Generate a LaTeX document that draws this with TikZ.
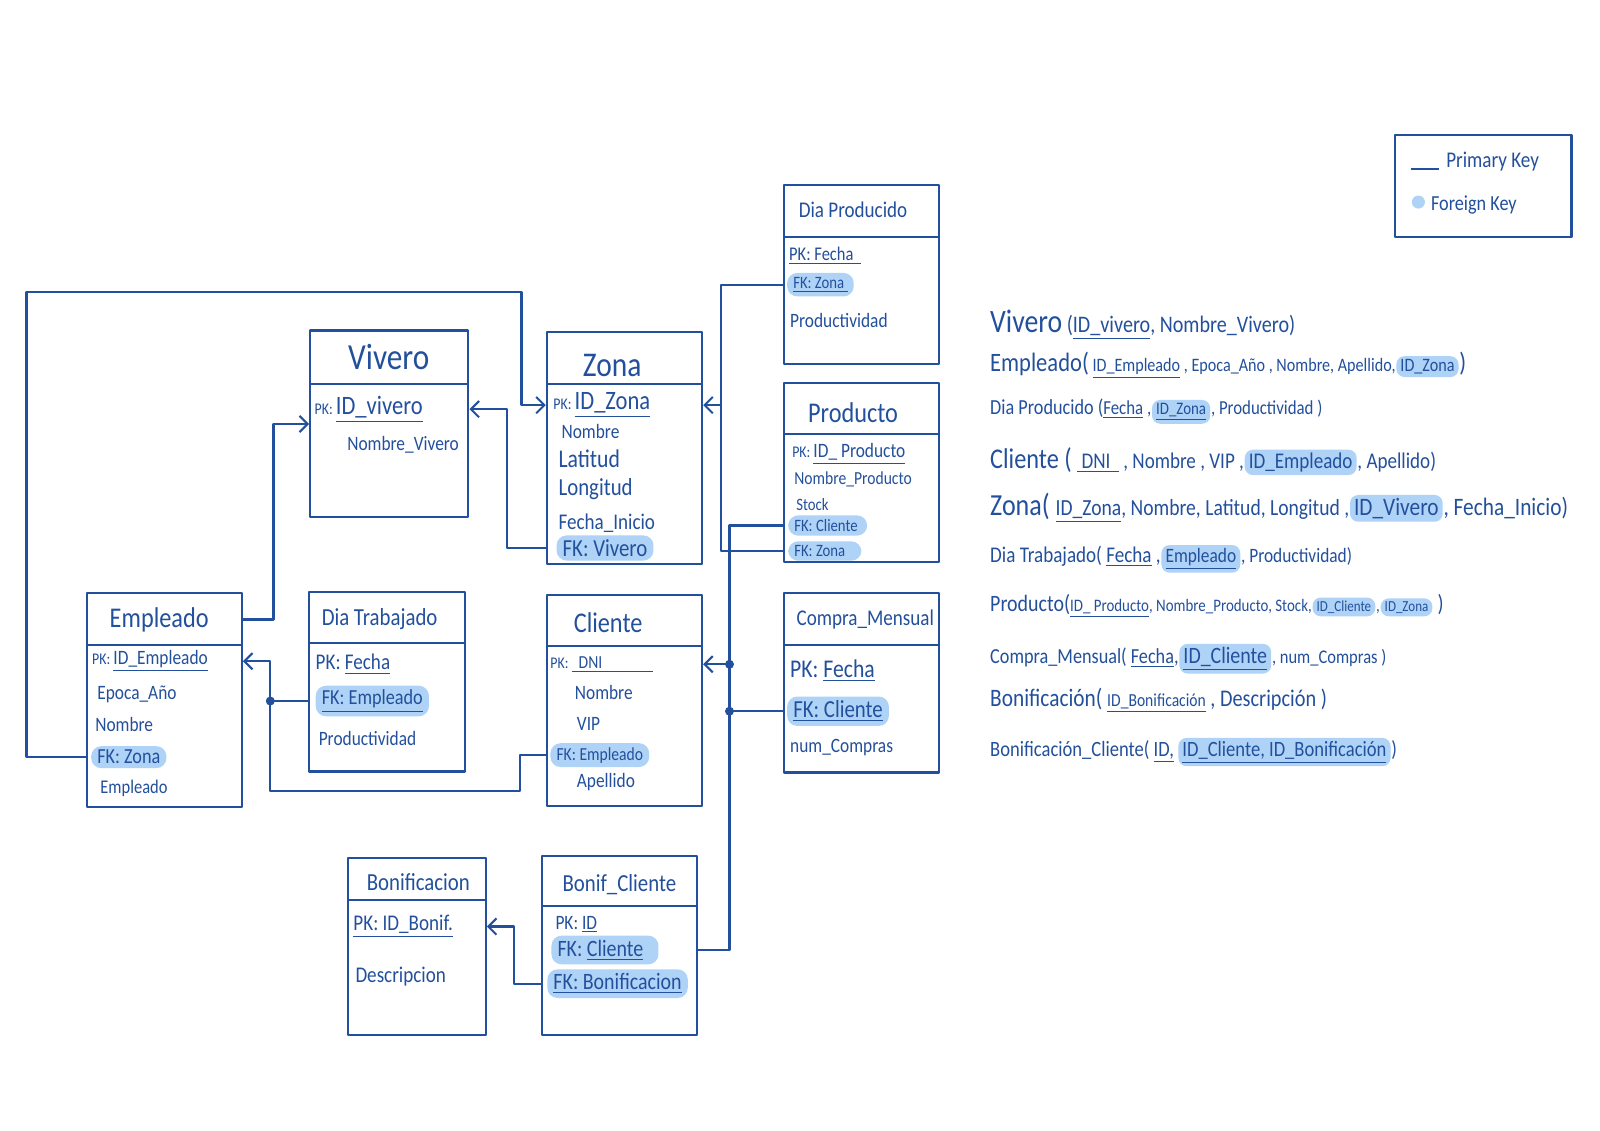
\documentclass[tikz,border=0pt]{standalone}
\usepackage{fontspec}
\setmainfont{Carlito}[FakeStretch=0.85]
\usetikzlibrary{arrows.meta,fit,calc}
\definecolor{ink}{HTML}{23509C}
\definecolor{hl}{HTML}{AFD3F7}
\newcommand\hsz[1]{\fontsize{#1}{#1}\selectfont}
\tikzset{
  box/.style={draw=ink, line width=1.1pt, inner sep=0pt},
  divider/.style={draw=ink, line width=1.1pt},
  ttl/.style={text=ink, inner sep=0pt},
  fld/.style={anchor=west, text=ink, inner sep=0pt, font=\hsz{10}},
  fk/.style={fld, fill=hl, rounded corners=5pt, inner xsep=3pt, inner ysep=2pt},
  link/.style={draw=ink, line width=1.1pt},
  arr/.style={link, -{Straight Barb[length=4pt,width=8pt,line width=1pt]}},
  rel/.style={anchor=base west, inner sep=0pt, text=ink},
  relfk/.style={rel, fill=hl, rounded corners=4pt, inner xsep=2pt, inner ysep=1.5pt},
  dot/.style={fill=ink}
}
\begin{document}
\begin{tikzpicture}[x=0.5pt, y=-0.5pt, line join=round]
\path[fill=white, use as bounding box] (0,0) rectangle (1568,1108);

% ---------- entity boxes ----------
% Vivero
\node[box, fit={(304,324) (459,507)}] (vv) {};
\draw[divider] (304,376) -- (459,376);
\node[ttl, font=\hsz{18}] (vvt) at (381,350) {Vivero};
\node[fld] (vpk) at (308,401) {\hsz{8}PK: \hsz{13}\underline{ID\_vivero}};
\node[fld, font=\hsz{10}] (vnm) at (340,436) {Nombre\_Vivero};

% Zona
\node[box, fit={(536,325) (688,553)}] (zn) {};
\draw[divider] (536,376) -- (688,376);
\node[ttl, font=\hsz{17}] (znt) at (600,358) {Zona};
\node[fld] (zpk) at (542,397) {\hsz{8}PK: \hsz{13}\underline{ID\_Zona}};
\node[fld] (znm) at (550,423) {Nombre};
\node[fld, font=\hsz{12.5}] (zla) at (547,450) {Latitud};
\node[fld, font=\hsz{12}] (zlo) at (547,479) {Longitud};
\node[fld, font=\hsz{11}] (zfi) at (547,513) {Fecha\_Inicio};
\node[fk, font=\hsz{12}] (zfk) at (545,537) {FK: Vivero\ };

% Dia Producido
\node[box, fit={(768,181) (920,357)}] (dp) {};
\draw[divider] (768,232) -- (920,232);
\node[ttl, font=\hsz{11}] (dpt) at (836,206) {Dia Producido};
\node[fld, font=\hsz{9.5}] (dppk) at (773,251) {\underline{PK: Fecha\ \ }};
\node[fk, font=\hsz{8.5}] (dpfk) at (771,279) {\underline{FK: Zona\ }};
\node[fld] (dppr) at (774,314) {Productividad};

% Producto
\node[box, fit={(768,375) (920,551)}] (pr) {};
\draw[divider] (768,425) -- (920,425);
\node[ttl, font=\hsz{14}] (prt) at (836,404) {Producto};
\node[fld] (prpk) at (776,445) {\hsz{8}PK: \hsz{10}\underline{ID\_ Producto}};
\node[fld, font=\hsz{9}] (prnm) at (778,470) {Nombre\_Producto};
\node[fld, font=\hsz{8.5}] (prst) at (780,494) {Stock};
\node[fk, font=\hsz{8.5}] (prfc) at (772,515) {FK: Cliente\ \ };
\node[fk, font=\hsz{8.5}] (prfz) at (772,540) {FK: Zona\ \ \ \ };

% Empleado
\node[box, fit={(85,581) (237,791)}] (em) {};
\draw[divider] (85,632) -- (237,632);
\node[ttl, font=\hsz{14}] (emt) at (156,607) {Empleado};
\node[fld] (empk) at (90,648) {\hsz{8}PK: \hsz{10}\underline{ID\_Empleado}};
\node[fld, font=\hsz{10}] (emep) at (95,680) {Epoca\_Año};
\node[fld] (emnm) at (93,710) {Nombre};
\node[fk, font=\hsz{10.5}] (emfk) at (89,742) {FK: Zona\ };
\node[fld, font=\hsz{9.5}] (emap) at (98,773) {Empleado};

% Dia Trabajado
\node[box, fit={(303,580) (456,756)}] (dt) {};
\draw[divider] (303,630) -- (456,630);
\node[ttl, font=\hsz{12}] (dtt) at (372,607) {Dia Trabajado};
\node[fld, font=\hsz{11}] (dtpk) at (309,651) {PK: \underline{Fecha}};
\node[fk, font=\hsz{10.5}] (dtfk) at (309,687) {\underline{FK: Empleado}};
\node[fld] (dtpr) at (312,724) {Productividad};

% Cliente
\node[box, fit={(536,583) (688,790)}] (cl) {};
\draw[divider] (536,633) -- (688,633);
\node[ttl, font=\hsz{14}] (clt) at (596,610) {Cliente};
\node[fld] (clpk) at (539,651) {\hsz{8}PK: \hsz{9}\underline{\makebox[40pt][l]{\ \ DNI}}};
\node[fld] (clnm) at (563,679) {Nombre};
\node[fld] (clvi) at (565,709) {VIP};
\node[fk, font=\hsz{9}] (clfk) at (539,740) {FK: Empleado};
\node[fld] (clap) at (565,766) {Apellido};

% Compra_Mensual
\node[box, fit={(768,581) (920,757)}] (cm) {};
\draw[divider] (768,632) -- (920,632);
\node[ttl, font=\hsz{11}] (cmt) at (848,607) {Compra\_Mensual};
\node[fld, font=\hsz{12.5}] (cmpk) at (774,657) {PK: \underline{Fecha}};
\node[fk, font=\hsz{12}] (cmfc) at (771,697) {\underline{FK: Cliente}};
\node[fld] (cmnc) at (774,733) {num\_Compras};

% Bonificacion
\node[box, fit={(341,841) (476,1014)}] (bn) {};
\draw[divider] (341,882) -- (476,882);
\node[ttl, font=\hsz{12}] (bnt) at (410,864) {Bonificacion};
\node[fld, font=\hsz{11}] (bnpk) at (346,908) {\underline{PK: ID\_Bonif.}};
\node[fld, font=\hsz{11}] (bnde) at (348,957) {Descripcion};

% Bonif_Cliente
\node[box, fit={(531,839) (683,1014)}] (bc) {};
\draw[divider] (531,888) -- (683,888);
\node[ttl, font=\hsz{12}] (bct) at (607,867) {Bonif\_Cliente};
\node[fld] (bcpk) at (544,906) {PK: \underline{ID}};
\node[fk, font=\hsz{11.5}] (bcfc) at (540,931) {FK: \underline{Cliente}\ \ \ };
\node[fk, font=\hsz{11.5}] (bcfb) at (536,964) {\underline{FK: Bonificacion}};

% ---------- relationships ----------
% Empleado.FK Zona -> Zona
\draw[arr] (em.west |- emfk) -- ++(-58,0) |- (511,286) |- (zn.west |- zpk);
% Empleado -> Vivero
\draw[arr] (em.east |- emt) -- ++(30,0) |- (vv.west);
% Zona.FK Vivero -> Vivero
\draw[arr] (zn.west |- zfk) -- ++(-38,0) |- (vv.east |- vpk);
% Dia Producido / Producto -> Zona
\draw[link] (dp.west |- dpfk) -- ++(-60,0) coordinate (j1) |- (pr.west |- prfz);
\draw[arr] (j1 |- zpk) -- (zn.east |- zpk);
% Producto / Compra_Mensual / Bonif_Cliente -> Cliente
\draw[link] (pr.west |- prfc) -- ++(-52,0) coordinate (j2) |- (bc.east |- bcfc);
\draw[arr] (j2 |- clpk) -- (cl.east |- clpk);
\draw[link] (j2 |- cmfc) -- (cm.west |- cmfc);
\fill[dot] (j2 |- clpk) circle (2.2pt);
\fill[dot] (j2 |- cmfc) circle (2.2pt);
% Dia Trabajado / Cliente -> Empleado
\draw[arr] (dt.west |- dtfk) -- ++(-37,0) coordinate (j3) |- (em.east |- empk);
\draw[link] (cl.west |- clfk) -- ++(-25,0) -- ++(0,35) -| (j3);
\fill[dot] (j3) circle (2.2pt);
% Bonif_Cliente -> Bonificacion
\draw[arr] (bc.west |- bcfb) -- ++(-26,0) |- (bn.east |- bnpk);

% ---------- legend ----------
\node[box, fit={(1367,132) (1540,232)}] (lg) {};
\draw[link, line width=0.9pt] (1383,166) -- (1410,166);
\node[fld, font=\hsz{11}] (lgpk) at (1417,158) {Primary Key};
\fill[hl] (1390,198) circle (3.2pt);
\node[fld, font=\hsz{10.5}] (lgfk) at (1402,201) {Foreign Key};

% ---------- relational schema ----------
\path (970,326) node[rel] (r1a) {\hsz{16}Vivero\hsz{11.6} (\underline{ID\_vivero}, Nombre\_Vivero)};

\path (970,364) node[rel] (r2a) {\hsz{13}Empleado(\hsz{9.3} \underline{ID\_Empleado} , Epoca\_Año , Nombre, Apellido,\ }
  (r2a.base east) node[relfk] (r2b) {\hsz{9.3}ID\_Zona}
  (r2b.base east) node[rel] (r2c) {\hsz{13})};

\path (970,406) node[rel] (r3a) {\hsz{10.5}Dia Producido (\hsz{9.7}\underline{Fecha} , }
  (r3a.base east) node[relfk] (r3b) {\hsz{8.6}\underline{ID\_Zona}}
  (r3b.base east) node[rel] (r3c) {\hsz{9.7}, Productividad )};

\path (970,459) node[rel] (r4a) {\hsz{14}Cliente ( \hsz{11}\underline{\ DNI\ \ } , Nombre , VIP , }
  (r4a.base east) node[relfk] (r4b) {\hsz{11}ID\_Empleado}
  (r4b.base east) node[rel] (r4c) {\hsz{11}, Apellido)};

\path (970,505) node[rel] (r5a) {\hsz{15}Zona( \hsz{11.3}\underline{ID\_Zona}, Nombre, Latitud, Longitud , }
  (r5a.base east) node[relfk] (r5b) {\hsz{12.3}ID\_Vivero}
  (r5b.base east) node[rel] (r5c) {\hsz{12.3}, Fecha\_Inicio)};

\path (970,551) node[rel] (r6a) {\hsz{11}Dia Trabajado( \underline{Fecha} , }
  (r6a.base east) node[relfk] (r6b) {\hsz{10}\underline{Empleado}}
  (r6b.base east) node[rel] (r6c) {\hsz{10}, Productividad)};

\path (970,599) node[rel] (r7a) {\hsz{11.5}Producto(\hsz{8.6}\underline{ID\_ Producto}, Nombre\_Producto, Stock, }
  (r7a.base east) node[relfk] (r7b) {\hsz{7.5}ID\_Cliente}
  (r7b.base east) node[rel] (r7c) {\hsz{8.6}, }
  (r7c.base east) node[relfk] (r7d) {\hsz{7.5}ID\_Zona}
  (r7d.base east) node[rel] (r7e) {\hsz{11.5} )};

\path (970,650) node[rel] (r8a) {\hsz{10.5}Compra\_Mensual( \underline{Fecha}, }
  (r8a.base east) node[relfk] (r8b) {\hsz{11.5}\underline{ID\_Cliente}}
  (r8b.base east) node[rel] (r8c) {\hsz{9.5}, num\_Compras )};

\path (970,692) node[rel] (r9a) {\hsz{12.3}Bonificación( \hsz{9}\underline{ID\_Bonificación}\hsz{11.7} , Descripción )};

\path (970,741) node[rel] (r10a) {\hsz{10.7}Bonificación\_Cliente( \underline{ID,}\,}
  (r10a.base east) node[relfk] (r10b) {\hsz{10.7}\underline{ID\_Cliente, ID\_Bonificación}}
  (r10b.base east) node[rel] (r10c) {\hsz{10.7})};
\end{tikzpicture}
\end{document}
